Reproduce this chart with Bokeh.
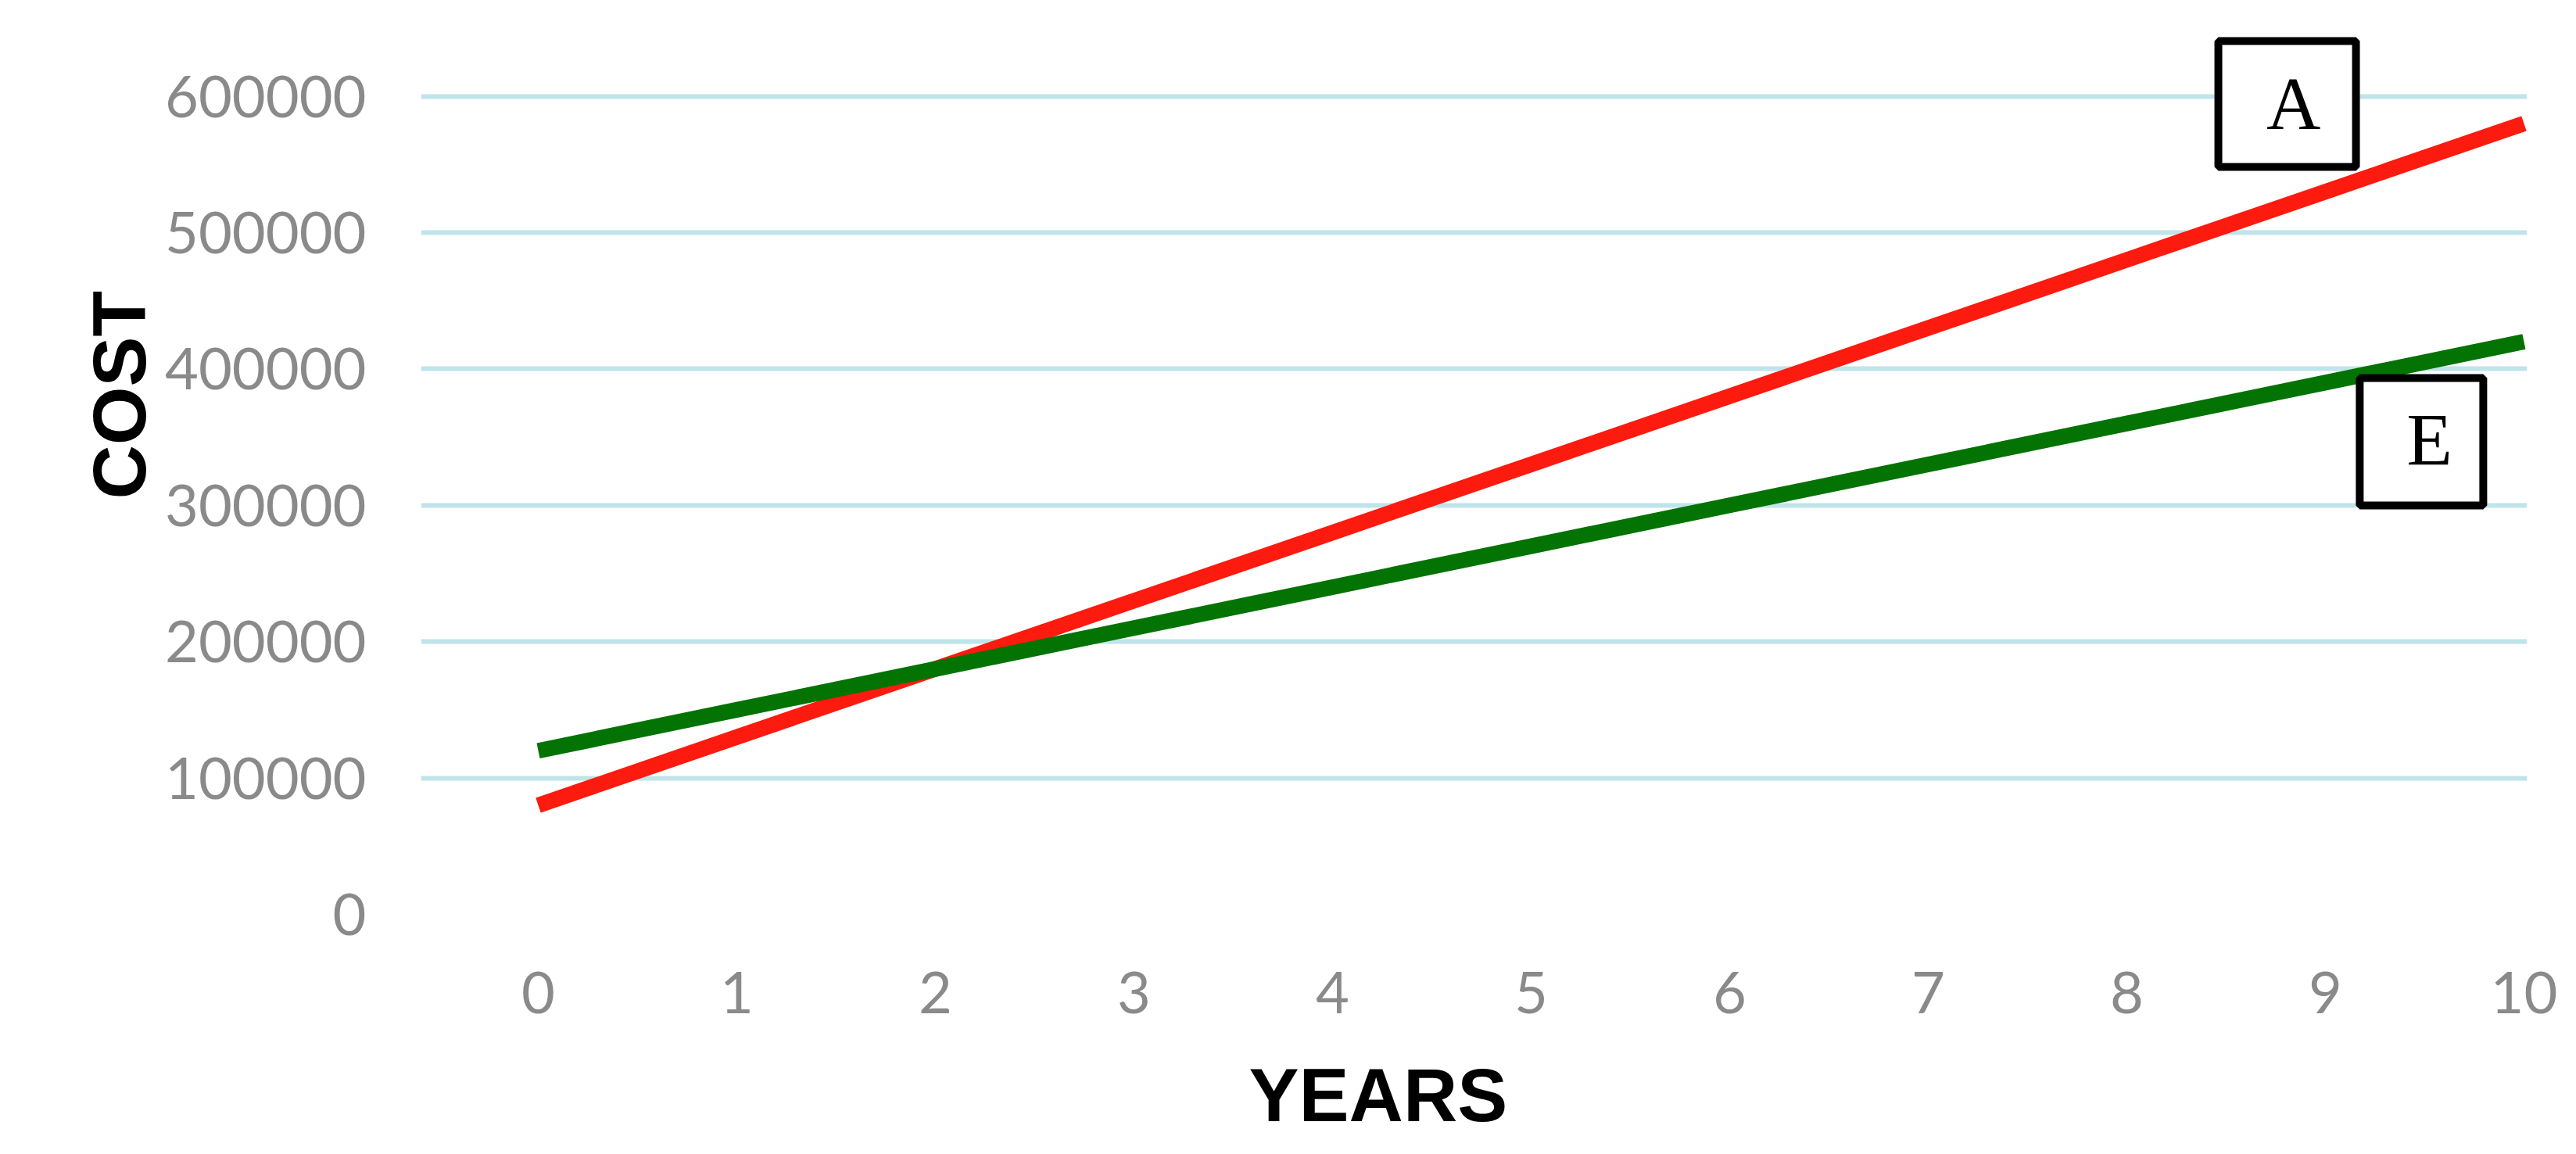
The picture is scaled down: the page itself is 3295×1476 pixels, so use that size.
from bokeh.plotting import figure
from bokeh.models import Range1d, FixedTicker, Label, BoxAnnotation, Title, LinearAxis
from bokeh.embed import file_html
from bokeh.resources import INLINE

# ---- data ----
years = [0, 1, 2, 3, 4, 5, 6, 7, 8, 9, 10]
cost_a = [80000, 130000, 180000, 230000, 280000, 330000, 380000, 430000, 480000, 530000, 580000]
cost_e = [120000, 150000, 180000, 210000, 240000, 270000, 300000, 330000, 360000, 390000, 420000]
y_ticks = [0, 100000, 200000, 300000, 400000, 500000, 600000]
y_tick_labels = ["0", "100000", "200000", "300000", "400000", "500000", "600000"]
x_tick_labels = ["0", "1", "2", "3", "4", "5", "6", "7", "8", "9", "10"]
series_names = ["A", "E"]
x_title = "YEARS"
y_title = "COST"

# ---- figure ----
p = figure(width=3279, height=1460, output_backend="svg", toolbar_location=None,
           title=None,
           x_range=Range1d(-0.5906, 10.016), y_range=Range1d(-6307, 653097),
           min_border_left=538, min_border_right=47, min_border_top=30,
           min_border_bottom=280)
p.outline_line_color = None
p.background_fill_color = "white"
p.border_fill_color = "white"

p.xgrid.visible = False
p.ygrid.ticker = FixedTicker(ticks=y_ticks[1:])
p.ygrid.grid_line_color = "#bfe4ea"
p.ygrid.grid_line_width = 6

tick_font = "Lato"
tick_color = "#8a8a8a"
for ax in (p.xaxis[0], p.yaxis[0]):
    ax.axis_line_color = None
    ax.major_tick_line_color = None
    ax.minor_tick_line_color = None
    ax.major_tick_out = 0
    ax.major_tick_in = 0
    ax.major_label_text_font = tick_font
    ax.major_label_text_font_size = "74px"
    ax.major_label_text_color = tick_color

p.yaxis.ticker = FixedTicker(ticks=y_ticks)
p.yaxis.major_label_overrides = {t: l for t, l in zip(y_ticks, y_tick_labels)}
p.yaxis.major_label_standoff = 70
p.xaxis.ticker = FixedTicker(ticks=years)
p.xaxis.major_label_overrides = {t: l for t, l in zip(years, x_tick_labels)}
p.xaxis.major_label_standoff = 62

p.line(years, cost_a, line_color="#fd1a0e", line_width=20, line_cap="butt")
p.line(years, cost_e, line_color="#037303", line_width=20, line_cap="butt")

# ---- annotation boxes ----
box_a = dict(left=8.461, right=9.154, top=640481, bottom=548165)
box_e = dict(left=9.173, right=9.795, top=393349, bottom=299885)
for b in (box_a, box_e):
    p.add_layout(BoxAnnotation(left=b["left"], right=b["right"], top=b["top"], bottom=b["bottom"],
                               fill_color="white", fill_alpha=1.0,
                               line_color="black", line_width=10, line_alpha=1.0))

letter_pos = [(8.839, 594610), (9.524, 348050)]
for name, (lx, ly) in zip(series_names, letter_pos):
    p.add_layout(Label(x=lx, y=ly, text=name, text_align="center", text_baseline="middle",
                       text_font="Liberation Serif", text_font_size="96px", text_color="black"))

# ---- spacers so the axis titles sit where they should ----
p.add_layout(LinearAxis(ticker=FixedTicker(ticks=[]), axis_line_color=None,
                        major_tick_line_color="white", minor_tick_line_color=None,
                        major_tick_out=80, major_tick_in=0, minor_tick_out=0,
                        major_label_standoff=0), "left")
p.add_layout(Title(text=" ", standoff=44, text_font_size="1px", text_color="white"), "below")

# ---- axis titles ----
p.add_layout(Title(text=x_title, align="left", offset=1059, vertical_align="middle",
                   standoff=0, text_font="Liberation Sans", text_font_style="bold",
                   text_font_size="96px", text_color="black"), "below")
p.add_layout(Title(text=y_title, align="left", offset=542, vertical_align="top",
                   standoff=0, text_font="Liberation Sans", text_font_style="bold",
                   text_font_size="96px", text_color="black"), "left")

open("out.html", "w").write(file_html(p, INLINE))
